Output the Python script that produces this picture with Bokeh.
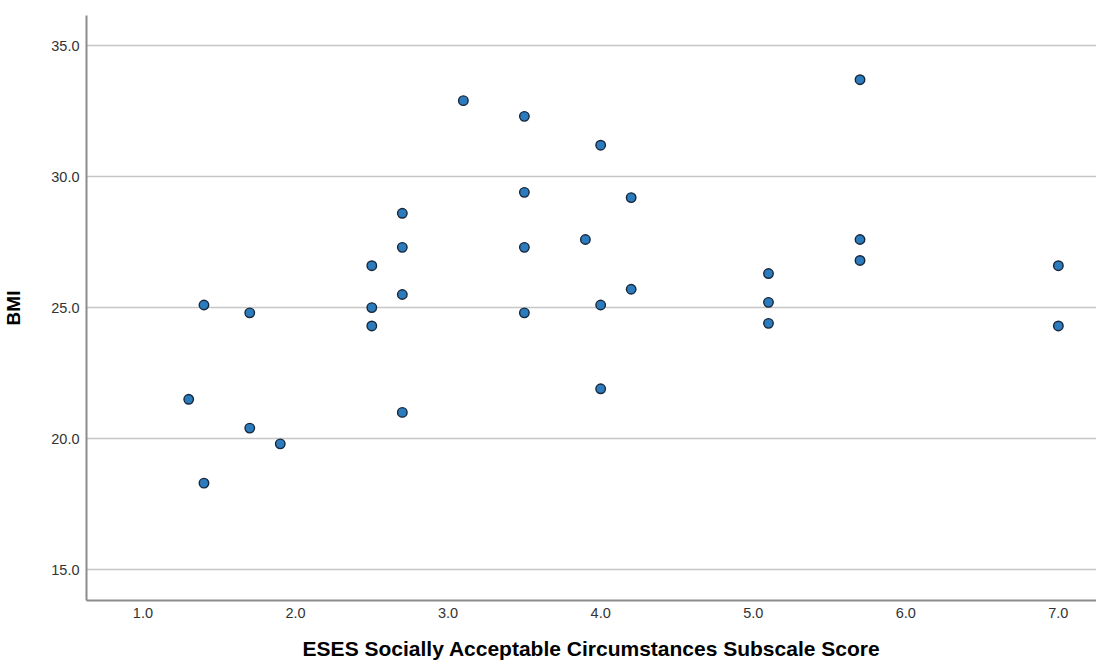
from bokeh.plotting import figure
from bokeh.models import FixedTicker, NumeralTickFormatter, Range1d
from bokeh.embed import file_html
from bokeh.resources import INLINE

# ESES Socially Acceptable Circumstances Subscale Score
eses_score = [1.3, 1.4, 1.4, 1.7, 1.7, 1.9,
              2.5, 2.5, 2.5, 2.7, 2.7, 2.7, 2.7,
              3.1, 3.5, 3.5, 3.5, 3.5, 3.9,
              4.0, 4.0, 4.0, 4.2, 4.2,
              5.1, 5.1, 5.1, 5.7, 5.7, 5.7,
              7.0, 7.0]
bmi = [21.5, 25.1, 18.3, 24.8, 20.4, 19.8,
       26.6, 25.0, 24.3, 28.6, 27.3, 25.5, 21.0,
       32.9, 32.3, 29.4, 27.3, 24.8, 27.6,
       31.2, 25.1, 21.9, 29.2, 25.7,
       26.3, 25.2, 24.4, 33.7, 27.6, 26.8,
       26.6, 24.3]

x_ticks = [1, 2, 3, 4, 5, 6, 7]
y_ticks = [15, 20, 25, 30, 35]

p = figure(width=1096, height=664, output_backend="svg", toolbar_location=None,
           x_range=Range1d(0.63, 7.25), y_range=Range1d(13.82, 36.15),
           min_border_left=79, min_border_right=0, min_border_top=15,
           min_border_bottom=64)

p.scatter(eses_score, bmi, size=9.5, fill_color="#2b7bbd",
          line_color="#17283d", line_width=1.4)

p.outline_line_color = None
p.xgrid.grid_line_color = None
p.ygrid.grid_line_color = "#c6c6c6"
p.ygrid.grid_line_width = 1.5

p.xaxis.ticker = FixedTicker(ticks=x_ticks)
p.yaxis.ticker = FixedTicker(ticks=y_ticks)
p.xaxis.formatter = NumeralTickFormatter(format="0.0")
p.yaxis.formatter = NumeralTickFormatter(format="0.0")

for ax in (p.xaxis, p.yaxis):
    ax.axis_line_color = "#8c8c8c"
    ax.axis_line_width = 2
    ax.major_tick_line_color = None
    ax.minor_tick_line_color = None
    ax.major_tick_out = 0
    ax.major_tick_in = 0
    ax.minor_tick_out = 0
    ax.minor_tick_in = 0
    ax.major_label_text_font = "Liberation Sans"
    ax.major_label_text_font_size = "14.5px"
    ax.major_label_text_color = "#333333"
    ax.axis_label_text_font = "Liberation Sans"
    ax.axis_label_text_font_style = "bold"
    ax.axis_label_text_color = "#000000"

p.xaxis.axis_label = "ESES Socially Acceptable Circumstances Subscale Score"
p.yaxis.axis_label = "BMI"
p.xaxis.axis_label_text_font_size = "21px"
p.yaxis.axis_label_text_font_size = "19px"
p.xaxis.major_label_standoff = 7
p.xaxis.axis_label_standoff = 16
p.yaxis.major_label_standoff = 7
p.yaxis.axis_label_standoff = 24

open("out.html", "w").write(file_html(p, INLINE))
